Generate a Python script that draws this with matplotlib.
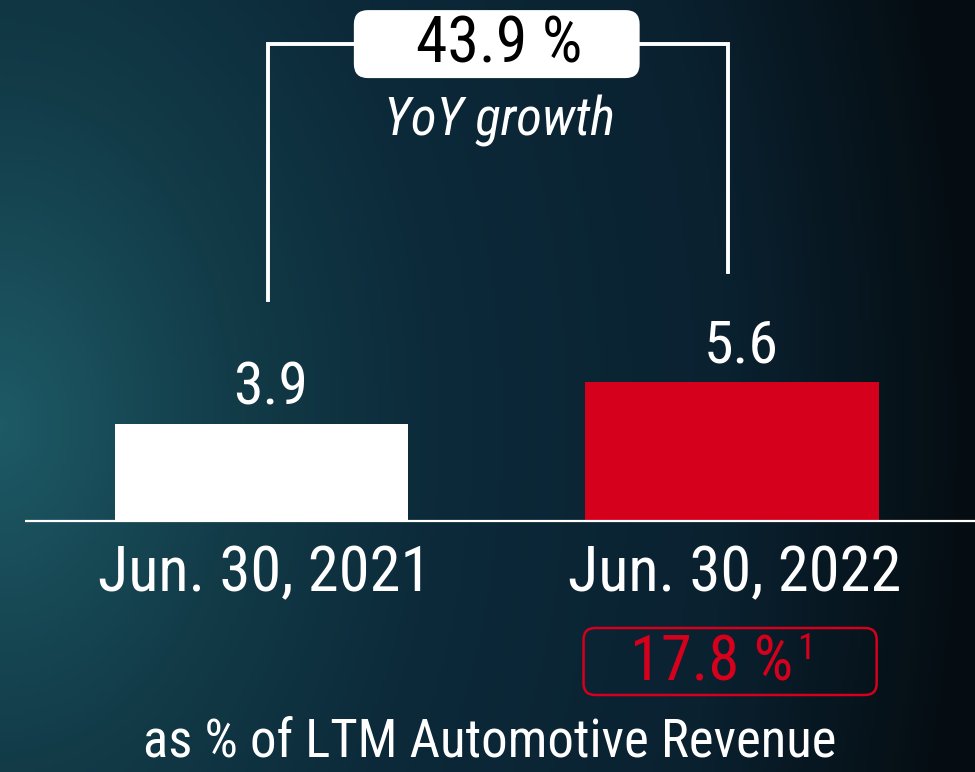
import numpy as np
import matplotlib
matplotlib.use("Agg")
import matplotlib.pyplot as plt
from matplotlib.patches import FancyBboxPatch
from matplotlib.colors import LinearSegmentedColormap

# data
categories = ["Jun. 30, 2021", "Jun. 30, 2022"]
values = [3.9, 5.6]
bar_colors = ["#ffffff", "#d5001c"]
growth_label = "43.9 %"
growth_caption = "YoY growth"
margin_label = "17.8 %"
margin_note = "1"
footer = "as % of LTM Automotive Revenue"

plt.rcParams["font.family"] = ["Roboto Condensed", "Liberation Sans Narrow", "Roboto", "DejaVu Sans"]

W, H, dpi = 975, 772, 100
fig = plt.figure(figsize=(W / dpi, H / dpi), dpi=dpi)

# background gradient, brightest teal on the left middle
bg = fig.add_axes([0, 0, 1, 1])
bg.set_axis_off()
yy, xx = np.mgrid[0:1:200j, 0:1:250j]
d = np.sqrt((xx * 1.0) ** 2 + ((yy - 0.55) * 0.55) ** 2)
cmap = LinearSegmentedColormap.from_list(
    "bg", [(0, "#1d5a65"), (0.25, "#123a47"), (0.45, "#0c2a3a"), (0.75, "#0a2130"), (1.0, "#050d12")])
bg.imshow(np.clip(d, 0, 1), cmap=cmap, vmin=0, vmax=1, aspect="auto", extent=[0, 1, 0, 1], origin="upper")
bg.set_xlim(0, 1)
bg.set_ylim(0, 1)

ax = fig.add_axes([0, 0, 1, 1])
ax.set_axis_off()
ax.patch.set_alpha(0)

px_x = 470.5   # pixels per category step
px_y = 24.8    # pixels per unit
xmin = -261.5 / px_x
ax.set_xlim(xmin, xmin + W / px_x)
ax.set_ylim(-(H - 521) / px_y, 521 / px_y)

x = np.arange(len(values))
bw = 0.623
ax.bar(x, values, width=bw, color=bar_colors, zorder=3)
ax.hlines(0, xmin + 25 / px_x, xmin + W / px_x, color="white", lw=1.6, zorder=4)

for xi, v, c in zip(x, values, categories):
    ax.text(xi + 0.02, v + 0.78, f"{v:.1f}", ha="center", va="baseline", color="white", fontsize=43)
    ax.text(xi + 0.006, -2.82, c, ha="center", va="baseline", color="white", fontsize=45)

# growth bracket
top = 19.23
lx, rx = x[0] + 0.014, x[1] - 0.008
ax.plot([lx, lx, rx, rx], [values[0] + 5.0, top, top, values[1] + 4.45], color="white", lw=2.8,
        solid_joinstyle="miter", zorder=2)
mid = (x[0] + x[1]) / 2
gw, gh = bw * 0.975, 68 / px_y
ax.add_patch(FancyBboxPatch((mid - gw / 2, top - gh / 2), gw, gh,
                            boxstyle="round,pad=0,rounding_size=0.03", mutation_aspect=px_x / px_y,
                            fc="white", ec="none", zorder=5))
ax.text(mid + 0.005, 18.5, growth_label, ha="center", va="baseline", fontsize=46, color="black", zorder=6)
ax.text(mid + 0.006, 15.56, growth_caption, ha="center", va="baseline", fontsize=38, color="white",
        style="italic")

# margin box under the 2022 bar
my = -(661.5 - 521) / px_y
mh = 67 / px_y
ax.add_patch(FancyBboxPatch((x[1] - bw / 2 - 0.004, my - mh / 2), bw, mh,
                            boxstyle="round,pad=0,rounding_size=0.025", mutation_aspect=px_x / px_y,
                            fc="none", ec="#d5001c", lw=1.8, zorder=5))
t_main = ax.text(0, -6.45, margin_label, ha="left", va="baseline", fontsize=45, color="#d5001c")
t_sup = ax.text(0, -5.55, margin_note, ha="left", va="baseline", fontsize=26, color="#d5001c")
fig.canvas.draw()
r = fig.canvas.get_renderer()
w1 = t_main.get_window_extent(r).width / px_x
w2 = t_sup.get_window_extent(r).width / px_x
gap = 4 / px_x
left = x[1] - 0.02 - (w1 + gap + w2) / 2
t_main.set_x(left)
t_sup.set_x(left + w1 + gap)

ax.text(mid - 0.015, -(758 - 521) / px_y, footer, ha="center", va="baseline", fontsize=38, color="white")

fig.savefig("out.png", dpi=dpi)
